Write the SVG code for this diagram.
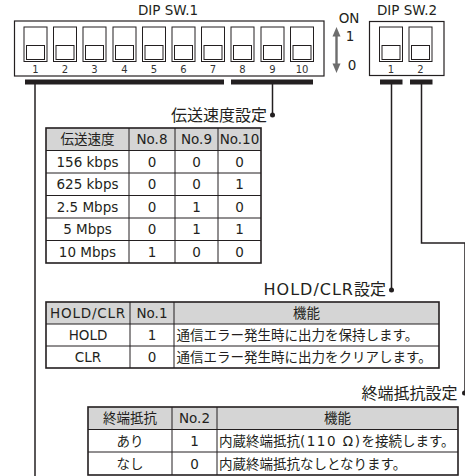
<svg xmlns="http://www.w3.org/2000/svg" width="465" height="476" viewBox="0 0 465 476">
<style>
text{font-family:"DejaVu Sans","Noto Sans CJK JP",sans-serif;fill:#231f20}
.lbl{font-size:13.5px;text-anchor:middle}
.num{font-size:10px;text-anchor:middle;fill:#333}
.title{font-size:16px;text-anchor:end}
.c{font-size:13.5px;text-anchor:middle}
.l{font-size:13.5px}
.box{fill:#fff;stroke:#231f20;stroke-width:1.2}
.sw{fill:#fff;stroke:#231f20;stroke-width:1}
.bar{fill:#231f20}
.wire{fill:none;stroke:#231f20;stroke-width:1.5}
.tbg{fill:#fff}
.tbl{fill:none;stroke:#231f20;stroke-width:1.6}
.hdr{fill:#d5d5d5}
.grid{stroke:#231f20;stroke-width:1;fill:none}
.dot{fill:#231f20}
.arw{fill:#6d6d6d}
</style>
<defs>
<g id="sw"><rect class="sw" x="0" y="0" width="23" height="34.5"/><rect class="sw" x="2.5" y="18.5" width="18" height="14"/></g>
</defs>

<g id="dipsw1">
<text class="lbl" x="168" y="15">DIP SW.1</text>
<rect class="box" x="14.5" y="21" width="309.5" height="55"/>
<use href="#sw" x="24" y="27"/>
<use href="#sw" x="53.5" y="27"/>
<use href="#sw" x="83" y="27"/>
<use href="#sw" x="113" y="27"/>
<use href="#sw" x="142.5" y="27"/>
<use href="#sw" x="172" y="27"/>
<use href="#sw" x="201.5" y="27"/>
<use href="#sw" x="231" y="27"/>
<use href="#sw" x="261" y="27"/>
<use href="#sw" x="290.5" y="27"/>
<text class="num" x="35.5" y="73">1</text>
<text class="num" x="65" y="73">2</text>
<text class="num" x="94.5" y="73">3</text>
<text class="num" x="124.5" y="73">4</text>
<text class="num" x="154" y="73">5</text>
<text class="num" x="183.5" y="73">6</text>
<text class="num" x="213" y="73">7</text>
<text class="num" x="242.5" y="73">8</text>
<text class="num" x="272.5" y="73">9</text>
<text class="num" x="302" y="73">10</text>
<rect class="bar" x="25" y="79.5" width="199" height="5"/>
<rect class="bar" x="231" y="79.5" width="82" height="5"/>
</g>

<g id="onoff">
<text class="lbl" x="349" y="23">ON</text>
<text class="lbl" x="350" y="41">1</text>
<text class="lbl" x="352" y="70">0</text>
<rect class="arw" x="335.3" y="34" width="2.4" height="32"/>
<polygon class="arw" points="336.5,27 332.5,36.5 340.5,36.5"/>
<polygon class="arw" points="336.5,73 332.5,63.5 340.5,63.5"/>
</g>

<g id="dipsw2">
<text class="lbl" x="407" y="14.5">DIP SW.2</text>
<rect class="box" x="369.5" y="21.5" width="74.5" height="54"/>
<use href="#sw" x="379.5" y="27"/>
<use href="#sw" x="409" y="27"/>
<text class="num" x="391" y="73">1</text>
<text class="num" x="420.5" y="73">2</text>
<rect class="bar" x="380" y="79.5" width="22.5" height="5"/>
<rect class="bar" x="410" y="79.5" width="22.5" height="5"/>
</g>

<g id="connectors">
<line class="wire" x1="35" y1="84" x2="35" y2="476"/>
<line class="wire" x1="272.5" y1="84" x2="272.5" y2="115"/>
<line class="wire" x1="391.5" y1="84" x2="391.5" y2="290"/>
<path class="wire" d="M421.5 84 V243 H465 V393"/>
<circle class="dot" cx="272.5" cy="115" r="2.5"/>
<circle class="dot" cx="391.5" cy="290" r="2.5"/>
<circle class="dot" cx="464.5" cy="393" r="2.5"/>
</g>

<g id="speed-table">
<text class="title" x="267" y="120.5">伝送速度設定</text>
<rect class="tbg" x="46" y="128" width="215" height="135"/>
<rect class="hdr" x="46" y="128" width="215" height="22.5"/>
<path class="grid" d="M129 128V263M175 128V263M218 128V263M46 150.5H261M46 173H261M46 195.5H261M46 218H261M46 240.5H261"/>
<rect class="tbl" x="46" y="128" width="215" height="135"/>
<text class="c" x="87.5" y="144.2">伝送速度</text>
<text class="c" x="152" y="144.2">No.8</text>
<text class="c" x="196.5" y="144.2">No.9</text>
<text class="c" x="239.5" y="144.2">No.10</text>
<text class="c" x="87.5" y="166.7">156 kbps</text>
<text class="c" x="152" y="166.7">0</text>
<text class="c" x="196.5" y="166.7">0</text>
<text class="c" x="239.5" y="166.7">0</text>
<text class="c" x="87.5" y="189.2">625 kbps</text>
<text class="c" x="152" y="189.2">0</text>
<text class="c" x="196.5" y="189.2">0</text>
<text class="c" x="239.5" y="189.2">1</text>
<text class="c" x="87.5" y="211.7">2.5 Mbps</text>
<text class="c" x="152" y="211.7">0</text>
<text class="c" x="196.5" y="211.7">1</text>
<text class="c" x="239.5" y="211.7">0</text>
<text class="c" x="87.5" y="234.2">5 Mbps</text>
<text class="c" x="152" y="234.2">0</text>
<text class="c" x="196.5" y="234.2">1</text>
<text class="c" x="239.5" y="234.2">1</text>
<text class="c" x="87.5" y="256.7">10 Mbps</text>
<text class="c" x="152" y="256.7">1</text>
<text class="c" x="196.5" y="256.7">0</text>
<text class="c" x="239.5" y="256.7">0</text>
</g>

<g id="holdclr-table">
<text class="title" x="386" y="295"><tspan letter-spacing="1">HOLD/CLR</tspan>設定</text>
<rect class="tbg" x="46" y="302" width="393" height="66"/>
<rect class="hdr" x="46" y="302" width="393" height="22"/>
<path class="grid" d="M130 302V368M174 302V368M46 324H439M46 346H439"/>
<rect class="tbl" x="46" y="302" width="393" height="66"/>
<text class="c" x="88" y="318" letter-spacing="0.8">HOLD/CLR</text>
<text class="c" x="152" y="318">No.1</text>
<text class="c" x="306.5" y="318">機能</text>
<text class="c" x="88" y="340">HOLD</text>
<text class="c" x="152" y="340">1</text>
<text class="l" x="176.5" y="340">通信エラー発生時に出力を保持します。</text>
<text class="c" x="88" y="362">CLR</text>
<text class="c" x="152" y="362">0</text>
<text class="l" x="176.5" y="362">通信エラー発生時に出力をクリアします。</text>
</g>

<g id="term-table">
<text class="title" x="457.5" y="399">終端抵抗設定</text>
<rect class="tbg" x="88" y="407" width="370" height="68"/>
<rect class="hdr" x="88" y="407" width="370" height="22.5"/>
<path class="grid" d="M172 407V475M217 407V475M88 429.5H458M88 452H458"/>
<rect class="tbl" x="88" y="407" width="370" height="68"/>
<text class="c" x="130" y="423.2">終端抵抗</text>
<text class="c" x="194.5" y="423.2">No.2</text>
<text class="c" x="337.5" y="423.2">機能</text>
<text class="c" x="130" y="445.7">あり</text>
<text class="c" x="194.5" y="445.7">1</text>
<text class="l" x="219" y="445.7">内蔵終端抵抗<tspan letter-spacing="1.5">(110 Ω)</tspan>を接続します。</text>
<text class="c" x="130" y="468.5">なし</text>
<text class="c" x="194.5" y="468.5">0</text>
<text class="l" x="219" y="468.5">内蔵終端抵抗なしとなります。</text>
</g>
</svg>
